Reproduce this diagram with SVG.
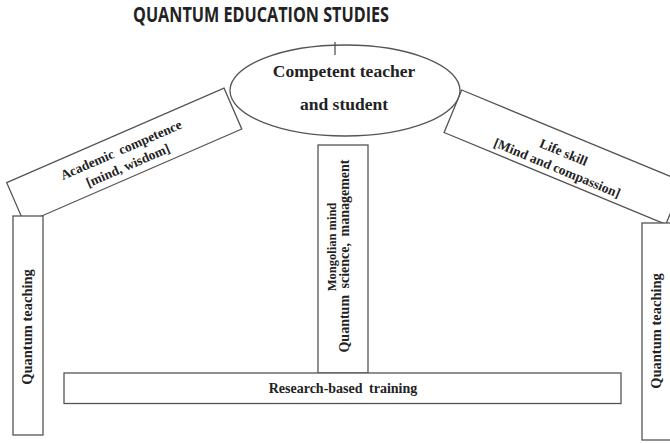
<svg xmlns="http://www.w3.org/2000/svg" width="670" height="443" viewBox="0 0 670 443">
  <style>
    .shape { fill: none; stroke: #555; stroke-width: 1.3; }
    .solid { fill: #fff; stroke: #555; stroke-width: 1.3; }
    .lbl { font-family: "Liberation Serif", "Times New Roman", serif; font-weight: bold; fill: #222; text-anchor: middle; }
    .title { font-family: "Open Sans", "Liberation Sans", sans-serif; font-weight: bold; fill: #222; text-anchor: middle; }
  </style>
  <rect width="670" height="443" fill="#fff"/>

  <text class="title" x="261" y="22" font-size="21" textLength="256" lengthAdjust="spacingAndGlyphs">QUANTUM EDUCATION STUDIES</text>

  <g id="connectors">
    <line class="shape" x1="335" y1="42" x2="335" y2="55"/>
  </g>

  <g id="competent">
    <ellipse class="shape" cx="345" cy="90.5" rx="115" ry="45.5"/>
    <text class="lbl" x="344" y="77" font-size="17.5">Competent teacher</text>
    <text class="lbl" x="344" y="110" font-size="17.5">and student</text>
  </g>

  <g id="academic" transform="translate(6.7,182.7) rotate(-23.5)">
    <rect class="shape" x="0" y="0" width="237" height="44.5"/>
    <text class="lbl" x="118" y="20" font-size="13.5" word-spacing="3">Academic competence</text>
    <text class="lbl" x="118" y="37" font-size="13.5">[mind, wisdom]</text>
  </g>

  <g id="lifeskill" transform="translate(461.7,90) rotate(22.5)">
    <rect class="shape" x="0" y="0" width="240" height="46"/>
    <text class="lbl" x="118" y="23" font-size="13.5">Life skill</text>
    <text class="lbl" x="118" y="40" font-size="13.5">[Mind and compassion]</text>
  </g>

  <g id="teaching-left">
    <rect class="solid" x="13" y="216" width="30" height="219"/>
    <text class="lbl" transform="translate(32,327) rotate(-90)" font-size="14.5">Quantum teaching</text>
  </g>

  <g id="teaching-right">
    <rect class="solid" x="642" y="223" width="32" height="217"/>
    <text class="lbl" transform="translate(661,331) rotate(-90)" font-size="14.5">Quantum teaching</text>
  </g>

  <g id="mongolian">
    <rect class="solid" x="318" y="145" width="50" height="228"/>
    <text class="lbl" transform="translate(336,247) rotate(-90)" font-size="12.5">Mongolian mind</text>
    <text class="lbl" transform="translate(349,256) rotate(-90)" font-size="14" word-spacing="3">Quantum science, management</text>
  </g>

  <g id="research">
    <rect class="solid" x="64" y="373" width="557" height="30.5"/>
    <text class="lbl" x="343" y="393" font-size="14" word-spacing="3">Research-based training</text>
  </g>
</svg>
